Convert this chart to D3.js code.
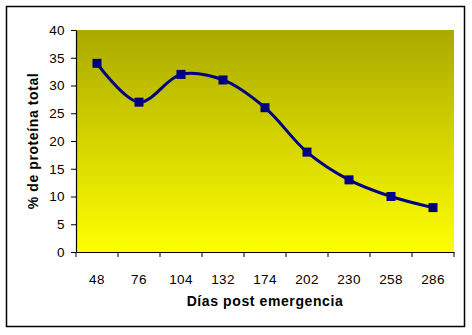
<!DOCTYPE html>
<html><head><meta charset="utf-8">
<script src="https://cdn.jsdelivr.net/npm/d3@7"></script>
<style>body{margin:0;background:#fff}svg{display:block}</style>
</head><body>
<script>
const categories = ["48","76","104","132","174","202","230","258","286"];
const values = [34,27,32,31,26,18,13,10,8];
const yTicks = [0,5,10,15,20,25,30,35,40];

const W=472,H=335;
const m={left:76,top:30,right:454,bottom:252};
const svg=d3.select("body").append("svg").attr("width",W).attr("height",H);
const defs=svg.append("defs");
const g=defs.append("linearGradient").attr("id","bg").attr("x1",0).attr("y1",0).attr("x2",0).attr("y2",1);
g.append("stop").attr("offset","0%").attr("stop-color","#aaa900");
g.append("stop").attr("offset","100%").attr("stop-color","#ffff00");

svg.append("rect").attr("x",6.5).attr("y",6.5).attr("width",458).attr("height",320)
  .attr("fill","#fff").attr("stroke","#000").attr("stroke-width",1.5);

const x=d3.scaleBand().domain(categories).range([m.left,m.right]);
const y=d3.scaleLinear().domain([0,40]).range([m.bottom,m.top]);

svg.append("rect").attr("x",m.left).attr("y",m.top).attr("width",m.right-m.left).attr("height",m.bottom-m.top).attr("fill","url(#bg)");

const font="Liberation Sans, Arial, sans-serif";
const ya=svg.append("g").attr("transform",`translate(${m.left},0)`)
  .call(d3.axisLeft(y).tickValues(yTicks).tickSize(5).tickPadding(6).tickSizeOuter(0));
const xa=svg.append("g").attr("transform",`translate(0,${m.bottom})`)
  .call(d3.axisBottom(x).tickSize(0).tickPadding(22).tickSizeOuter(0));
const bounds=categories.map(c=>x(c)).concat([m.right]);
xa.selectAll(".bt").data(bounds).enter().append("line").attr("class","bt")
  .attr("x1",d=>d).attr("x2",d=>d).attr("y1",0).attr("y2",5).attr("stroke","#000");
[ya,xa].forEach(a=>{
  a.selectAll("text").attr("font-family",font).attr("font-size",13.5).attr("letter-spacing","0.4px").attr("fill","#000");
  a.select(".domain").attr("stroke","#000").attr("stroke-width",1.2);
  a.selectAll(".tick line").attr("stroke","#000");
});

const line=d3.line().x((d,i)=>x(categories[i])+x.bandwidth()/2).y(d=>y(d)).curve(d3.curveCatmullRom.alpha(0.5));
svg.append("path").datum(values).attr("d",line).attr("fill","none").attr("stroke","#000080").attr("stroke-width",3);
svg.selectAll(".pt").data(values).enter().append("rect").attr("class","pt")
  .attr("x",(d,i)=>x(categories[i])+x.bandwidth()/2-4.5).attr("y",d=>y(d)-4.5)
  .attr("width",9).attr("height",9).attr("fill","#000080");

svg.append("text").attr("x",265).attr("y",306).attr("text-anchor","middle")
  .attr("font-family",font).attr("font-size",14).attr("letter-spacing","0.6px").attr("font-weight","bold").text("Días post emergencia");
svg.append("text").attr("transform","translate(38,141) rotate(-90)").attr("text-anchor","middle")
  .attr("font-family",font).attr("font-size",14).attr("letter-spacing","0.6px").attr("font-weight","bold").text("% de proteína total");
</script>
</body></html>
